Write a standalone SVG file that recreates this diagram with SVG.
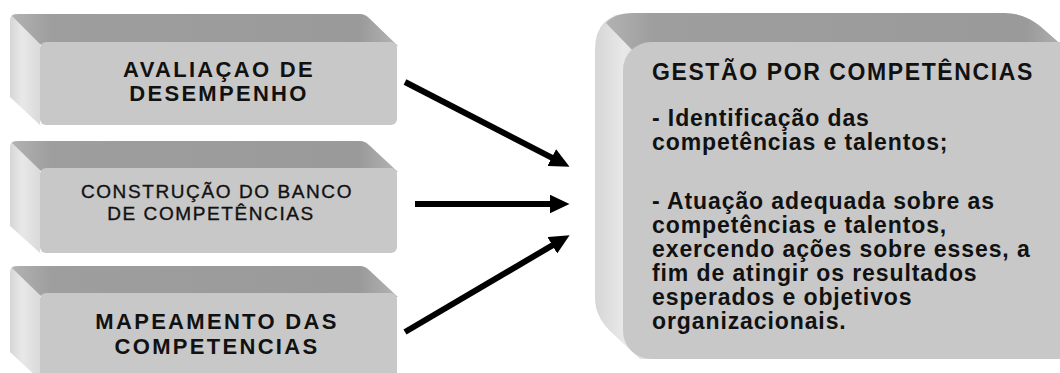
<svg xmlns="http://www.w3.org/2000/svg" width="1060" height="373" viewBox="0 0 1060 373">
  <defs>
    <linearGradient id="gTop" x1="0" y1="0" x2="1" y2="0">
      <stop offset="0" stop-color="#b2b2b2"/>
      <stop offset="0.1" stop-color="#9e9e9e"/>
      <stop offset="0.9" stop-color="#9a9a9a"/>
      <stop offset="1" stop-color="#b4b4b4"/>
    </linearGradient>
    <linearGradient id="gLeft" x1="0" y1="0" x2="1" y2="0">
      <stop offset="0" stop-color="#d6d6d6"/>
      <stop offset="0.4" stop-color="#e8e8e8"/>
      <stop offset="1" stop-color="#dadada"/>
    </linearGradient>
    <marker id="ah" markerUnits="userSpaceOnUse" markerWidth="20" markerHeight="19" viewBox="0 0 20 19" refX="0.5" refY="9.5" orient="auto">
      <path d="M0,0 L20,9.5 L0,19 Z" fill="#000"/>
    </marker>
    <style>
      .top { fill: url(#gTop); }
      .left { fill: url(#gLeft); }
      .front { fill: #c8c8c8; }
      .t1 { font-family: "Liberation Sans", Arial, sans-serif; font-weight: bold; font-size: 22px; letter-spacing: 2.3px; fill: #111; text-anchor: middle; }
      .t2 { font-family: "Liberation Sans", Arial, sans-serif; font-weight: normal; font-size: 19px; letter-spacing: 1.6px; fill: #111; text-anchor: middle; stroke: #111; stroke-width: 0.35px; }
      .tt { font-family: "Liberation Sans", Arial, sans-serif; font-weight: bold; font-size: 23px; letter-spacing: 1.6px; fill: #111; }
      .tb { font-family: "Liberation Sans", Arial, sans-serif; font-weight: bold; font-size: 23px; letter-spacing: 0.9px; fill: #111; }
      .arrow { stroke: #000; stroke-width: 6; fill: none; stroke-linecap: butt; marker-end: url(#ah); }
    </style>
  </defs>

  <g id="node-avaliacao">
    <path class="left" d="M10,20 Q10,14 16,14 L40,42 L40,125 L10,97 Z"/>
    <path class="top" d="M12,16 Q13,14 18,14 L360,14 Q365,14 369,18 L398,46 L42,46 Z"/>
    <rect class="front" x="40" y="42" width="357" height="83" rx="6"/>
    <text class="t1" x="219" y="77">AVALIAÇAO DE</text>
    <text class="t1" x="219" y="101">DESEMPENHO</text>
  </g>

  <g id="node-construcao">
    <path class="left" d="M10,147 Q10,141 16,141 L40,168 L40,253 L10,226 Z"/>
    <path class="top" d="M12,143 Q13,141 18,141 L360,141 Q365,141 369,145 L398,172 L42,172 Z"/>
    <rect class="front" x="40" y="168" width="357" height="85" rx="6"/>
    <text class="t2" x="217" y="198">CONSTRUÇÃO  DO BANCO</text>
    <text class="t2" x="211" y="220">DE COMPETÊNCIAS</text>
  </g>

  <g id="node-mapeamento">
    <path class="left" d="M10,272 Q10,266 16,266 L40,293 L40,380 L10,352 Z"/>
    <path class="top" d="M12,268 Q13,266 18,266 L360,266 Q365,266 369,270 L398,297 L42,297 Z"/>
    <rect class="front" x="40" y="293" width="357" height="86" rx="6"/>
    <text class="t1" x="217" y="329">MAPEAMENTO DAS</text>
    <text class="t1" x="217" y="354">COMPETENCIAS</text>
  </g>

  <g id="node-gestao">
    <path class="left" d="M632,13 Q595,13 595,50 L595,298 Q595,316 610,331 L640,359 L665,359 L665,50 Z"/>
    <path class="top" d="M606,23 Q614,13 634,13 L1005,13 Q1024,13 1040,26 L1072,54 L636,54 Z"/>
    <rect class="front" x="623" y="42" width="465" height="317" rx="28"/>
    <text class="tt" x="652" y="80">GESTÃO POR COMPETÊNCIAS</text>
    <text class="tb" x="652" y="126">- Identificação das</text>
    <text class="tb" x="652" y="150">competências e talentos;</text>
    <text class="tb" x="652" y="209">- Atuação adequada sobre as</text>
    <text class="tb" x="652" y="233">competências e talentos,</text>
    <text class="tb" x="652" y="257">exercendo ações sobre esses, a</text>
    <text class="tb" x="652" y="281">fim de atingir os resultados</text>
    <text class="tb" x="652" y="305">esperados e objetivos</text>
    <text class="tb" x="652" y="329">organizacionais.</text>
  </g>

  <g id="connectors">
    <line class="arrow" x1="405" y1="82" x2="552.2" y2="157.8"/>
    <line class="arrow" x1="415" y1="204" x2="550" y2="204"/>
    <line class="arrow" x1="405" y1="332" x2="552.8" y2="245.1"/>
  </g>
</svg>
